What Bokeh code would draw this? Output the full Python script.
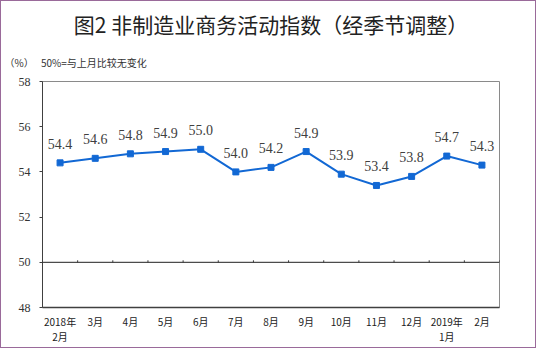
from bokeh.plotting import figure
from bokeh.models import Range1d, FactorRange, Span, ColumnDataSource, LabelSet, Title
from bokeh.transform import dodge
from bokeh.embed import file_html
from bokeh.resources import INLINE

months = ["2018年\n2月", "3月", "4月", "5月", "6月", "7月", "8月", "9月",
          "10月", "11月", "12月", "2019年\n1月", "2月"]
values = [54.4, 54.6, 54.8, 54.9, 55.0, 54.0, 54.2, 54.9, 53.9, 53.4, 53.8, 54.7, 54.3]
y_ticks = [48, 50, 52, 54, 56, 58]
title_text = "图2 非制造业商务活动指数（经季节调整）"
note_text = "（%）　  50%=与上月比较无变化"
baseline = 50

p = figure(frame_width=457, frame_height=226, output_backend="svg", toolbar_location=None,
           x_range=FactorRange(*months, range_padding=0), y_range=Range1d(48, 58),
           min_border_left=41, min_border_right=36, min_border_top=80, min_border_bottom=36)
p.styles = {"border": "1px solid #9a6a9a"}
p.background_fill_color = "white"
p.border_fill_color = "white"
p.grid.visible = False
p.outline_line_color = "#8a8a8a"
p.outline_line_width = 1

p.yaxis.ticker = y_ticks
p.yaxis.axis_line_color = "#404040"
p.yaxis.major_tick_line_color = "#404040"
p.yaxis.major_tick_in = 0
p.yaxis.major_tick_out = 3
p.yaxis.minor_tick_line_color = None
p.yaxis.major_label_text_font = "Liberation Sans Narrow"
p.yaxis.major_label_text_font_size = "12px"
p.yaxis.major_label_text_color = "#333333"
p.yaxis.major_label_standoff = 9

p.xaxis.axis_line_color = "#404040"
p.xaxis.axis_line_width = 1.5
p.xaxis.major_tick_line_color = None
p.xaxis.major_tick_in = 0
p.xaxis.major_tick_out = 0
p.xaxis.major_label_text_font = "Noto Sans CJK SC"
p.xaxis.major_label_text_font_size = "10px"
p.xaxis.major_label_text_color = "#222222"
p.xaxis.major_label_text_line_height = 1.05
p.xaxis.major_label_standoff = 6

p.add_layout(Span(location=baseline, dimension="width", line_color="#202020", line_width=1))

src = ColumnDataSource(dict(x=months, y=values, lab=[f"{v:.1f}" for v in values],
                            yb=[baseline] * len(months), yt=[baseline + 0.09] * len(months)))
p.segment(x0=dodge("x", 0.5, range=p.x_range), y0="yb", x1=dodge("x", 0.5, range=p.x_range), y1="yt",
          source=src, line_color="#404040", line_width=1)

p.line("x", "y", source=src, line_color="#1268d4", line_width=2)
p.scatter("x", "y", source=src, marker="square", size=6, fill_color="#1268d4", line_color="#1268d4")
p.add_layout(LabelSet(x="x", y="y", text="lab", source=src, y_offset=19,
                      text_align="center", text_baseline="middle",
                      text_font="Liberation Sans", text_font_size="14px", text_color="#404040"))

p.add_layout(Title(text=note_text, align="left", offset=-38, standoff=23,
                   text_font="Noto Sans CJK SC", text_font_size="10px",
                   text_font_style="normal", text_color="#333333"), "above")
p.add_layout(Title(text=title_text, align="center", offset=-37, standoff=5,
                   text_font="Noto Sans CJK SC", text_font_size="21px",
                   text_font_style="normal", text_color="#222222"), "above")

open("out.html", "w").write(file_html(p, INLINE))
